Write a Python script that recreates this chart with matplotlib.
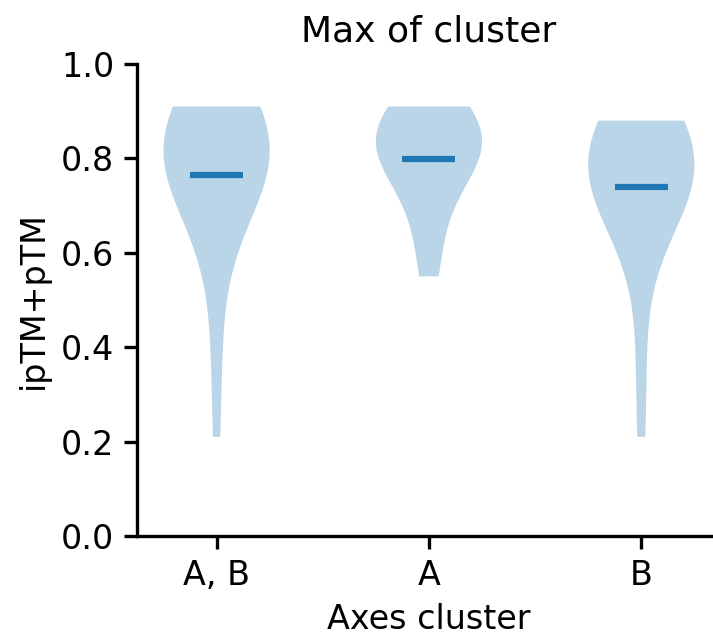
import matplotlib
matplotlib.use("Agg")
import matplotlib.pyplot as plt

# best ipTM+pTM score per cluster, grouped by which axes the cluster covers
groups = ["A, B", "A", "B"]

scores_ab = [0.21, 0.40, 0.52, 0.67, 0.73, 0.76, 0.78, 0.79, 0.80, 0.80,
             0.80, 0.81, 0.81, 0.81, 0.82, 0.82, 0.82, 0.83, 0.83, 0.84,
             0.85, 0.86, 0.87, 0.88, 0.88, 0.91]
scores_a = [0.55, 0.60, 0.64, 0.72, 0.77, 0.79, 0.80, 0.81, 0.82, 0.82,
            0.83, 0.84, 0.84, 0.85, 0.86, 0.87, 0.88, 0.89, 0.90, 0.91]
scores_b = [0.21, 0.32, 0.45, 0.62, 0.70, 0.72, 0.72, 0.74, 0.74, 0.75,
            0.76, 0.76, 0.77, 0.78, 0.78, 0.79, 0.79, 0.79, 0.80, 0.80,
            0.80, 0.80, 0.81, 0.82, 0.82, 0.83, 0.84, 0.84, 0.85, 0.86,
            0.88]
# kde bandwidth factor per group
bandwidths = [0.9, 0.9, 0.9]

fig = plt.figure(figsize=(713 / 200, 639 / 200), dpi=200)
ax = fig.add_axes([0.1921, 0.1612, 0.819, 0.7387])

for pos, scores, bw in zip([1, 2, 3], [scores_ab, scores_a, scores_b], bandwidths):
    parts = ax.violinplot([scores], positions=[pos], showmeans=True,
                          showextrema=False, bw_method=bw)
    for body in parts["bodies"]:
        body.set_facecolor("C0")
        body.set_alpha(0.3)
    parts["cmeans"].set_color("C0")
    parts["cmeans"].set_linewidth(2.25)

ax.set_xlim(0.625, 3.375)
ax.set_ylim(0, 1)
ax.set_xticks([1, 2, 3])
ax.set_xticklabels(groups)
ax.set_yticks([0.0, 0.2, 0.4, 0.6, 0.8, 1.0])
ax.tick_params(labelsize=12, length=4.7, width=1.2)
for side in ["top", "right"]:
    ax.spines[side].set_visible(False)
for side in ["left", "bottom"]:
    ax.spines[side].set_linewidth(1.2)

ax.set_title("Max of cluster", fontsize=13, pad=8)
ax.set_xlabel("Axes cluster", fontsize=12)
ax.set_ylabel("ipTM+pTM", fontsize=12)

fig.savefig("out.png", dpi=200)
